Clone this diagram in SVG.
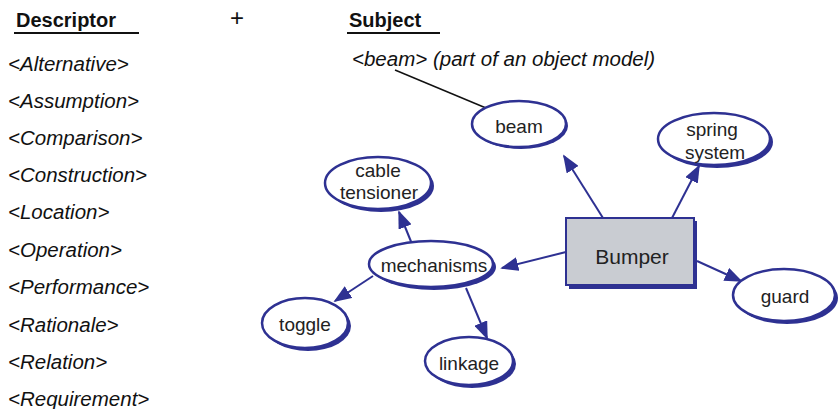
<svg xmlns="http://www.w3.org/2000/svg" width="840" height="409" viewBox="0 0 840 409">
<style>
.h{font-family:"Liberation Sans",Arial,sans-serif;font-weight:bold;font-size:20px;fill:#111}
.d{font-family:"Liberation Sans",Arial,sans-serif;font-style:italic;font-size:20.5px;fill:#111}
.t{font-family:"Liberation Sans",Arial,sans-serif;font-size:19px;fill:#222;text-anchor:middle}
.sh{fill:#2e3192}
.el{fill:#fff;stroke:#2e3192;stroke-width:2.5}
.c{stroke:#2e3192;stroke-width:2;fill:none;marker-end:url(#ah)}
</style>
<defs>
<marker id="ah" viewBox="0 0 10 10" refX="9" refY="5" markerWidth="18" markerHeight="14" markerUnits="userSpaceOnUse" orient="auto" preserveAspectRatio="none">
<path d="M0,0 L10,5 L0,10 z" fill="#2e3192"/>
</marker>
</defs>
<rect width="840" height="409" fill="#fff"/>
<g id="headers">
<text class="h" x="16" y="27">Descriptor</text>
<line x1="14" y1="33" x2="139" y2="33" stroke="#111" stroke-width="2"/>
<text x="230" y="26" font-family="Liberation Sans,Arial,sans-serif" font-size="24" fill="#111">+</text>
<text class="h" x="349" y="27">Subject</text>
<line x1="347" y1="33" x2="440" y2="33" stroke="#111" stroke-width="2"/>
<text class="d" x="352" y="66">&lt;beam&gt; (part of an object model)</text>
</g>
<g id="descriptors">
<text class="d" x="8" y="71">&lt;Alternative&gt;</text>
<text class="d" x="8" y="108">&lt;Assumption&gt;</text>
<text class="d" x="8" y="145">&lt;Comparison&gt;</text>
<text class="d" x="8" y="182">&lt;Construction&gt;</text>
<text class="d" x="8" y="219">&lt;Location&gt;</text>
<text class="d" x="8" y="257">&lt;Operation&gt;</text>
<text class="d" x="8" y="294">&lt;Performance&gt;</text>
<text class="d" x="8" y="332">&lt;Rationale&gt;</text>
<text class="d" x="8" y="369">&lt;Relation&gt;</text>
<text class="d" x="8" y="406">&lt;Requirement&gt;</text>
</g>
<g id="connectors">
<line x1="395" y1="70" x2="486" y2="108" stroke="#111" stroke-width="1.5"/>
<path d="M603,218 L564,156" class="c"/>
<path d="M672,218 L699,166" class="c"/>
<path d="M566,252 L502,268" class="c"/>
<path d="M697,261 L741,281" class="c"/>
<path d="M412,244 L399,212" class="c"/>
<path d="M373,276 L335,301" class="c"/>
<path d="M466,288 L487,338" class="c"/>
</g>
<g id="bumper">
<rect x="569" y="221" width="128" height="68" class="sh"/>
<rect x="566" y="218" width="128" height="67" fill="#c9ccd2" stroke="#2e3192" stroke-width="2"/>
<text class="t" x="632" y="264" style="font-size:21px">Bumper</text>
</g>
<g id="beam">
<ellipse cx="521" cy="126" rx="47" ry="23" class="sh"/>
<ellipse cx="519" cy="124" rx="47" ry="23" class="el"/>
<text class="t" x="519" y="133">beam</text>
</g>
<g id="spring">
<ellipse cx="717" cy="142" rx="56" ry="26" class="sh"/>
<ellipse cx="714" cy="139" rx="56" ry="26" class="el"/>
<text class="t" x="712" y="136">spring</text>
<text class="t" x="715" y="159">system</text>
</g>
<g id="cable">
<ellipse cx="381" cy="186" rx="53" ry="26" class="sh"/>
<ellipse cx="378" cy="183" rx="53" ry="26" class="el"/>
<text class="t" x="378" y="177">cable</text>
<text class="t" x="379" y="199">tensioner</text>
</g>
<g id="mechanisms">
<ellipse cx="434" cy="267" rx="62" ry="23" class="sh"/>
<ellipse cx="431" cy="264" rx="62" ry="23" class="el"/>
<text class="t" x="434" y="272">mechanisms</text>
</g>
<g id="toggle">
<ellipse cx="308" cy="326" rx="43" ry="25" class="sh"/>
<ellipse cx="305" cy="323" rx="43" ry="25" class="el"/>
<text class="t" x="305" y="331">toggle</text>
</g>
<g id="linkage">
<ellipse cx="472" cy="364" rx="44" ry="24" class="sh"/>
<ellipse cx="469" cy="361" rx="44" ry="24" class="el"/>
<text class="t" x="469" y="370">linkage</text>
</g>
<g id="guard">
<ellipse cx="787" cy="298" rx="51" ry="26" class="sh"/>
<ellipse cx="784" cy="295" rx="51" ry="26" class="el"/>
<text class="t" x="785" y="303">guard</text>
</g>
</svg>
